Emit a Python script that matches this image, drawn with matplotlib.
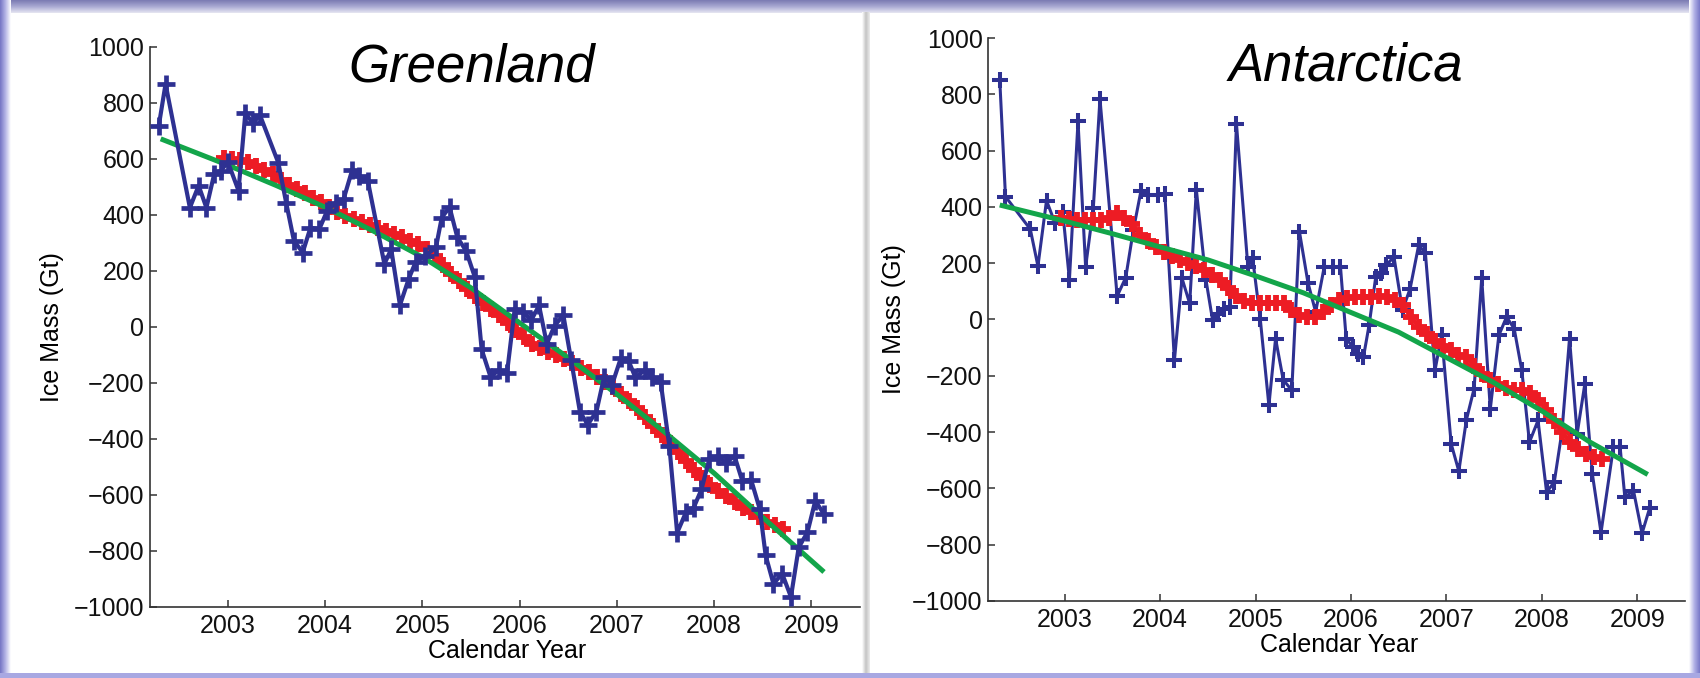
import numpy as np
import matplotlib
matplotlib.use("Agg")
import matplotlib.pyplot as plt
from matplotlib.colors import LinearSegmentedColormap

plt.rcParams['font.family'] = ['Liberation Sans', 'DejaVu Sans']

# ---------------- data ----------------
gl_years = [2002.29, 2002.36, 2002.61, 2002.70, 2002.78, 2002.86, 2002.93, 2003.00,
            2003.11, 2003.18, 2003.26, 2003.33, 2003.52, 2003.60, 2003.68, 2003.77,
            2003.85, 2003.94, 2004.02, 2004.11, 2004.19, 2004.28, 2004.35, 2004.44,
            2004.61, 2004.68, 2004.77, 2004.86, 2004.93, 2005.03, 2005.14, 2005.20,
            2005.28, 2005.36, 2005.45, 2005.54, 2005.61, 2005.70, 2005.79, 2005.87,
            2005.95, 2006.04, 2006.12, 2006.20, 2006.28, 2006.36, 2006.45, 2006.53,
            2006.62, 2006.70, 2006.79, 2006.87, 2006.95, 2007.04, 2007.12, 2007.19,
            2007.29, 2007.36, 2007.45, 2007.54, 2007.62, 2007.71, 2007.79, 2007.87,
            2007.95, 2008.04, 2008.12, 2008.21, 2008.29, 2008.38, 2008.47, 2008.53,
            2008.61, 2008.70, 2008.79, 2008.87, 2008.96, 2009.04, 2009.13]
gl_mass = [718, 868, 426, 505, 426, 546, 558, 590,
           487, 763, 728, 757, 586, 444, 308, 266,
           355, 349, 414, 444, 456, 562, 538, 521,
           225, 278, 78, 172, 231, 255, 284, 391,
           428, 320, 272, 178, -80, -177, -154, -166,
           65, 53, 24, 77, -60, 5, 42, -118,
           -302, -349, -302, -177, -207, -112, -120, -180,
           -154, -177, -195, -426, -735, -662, -645, -580,
           -473, -461, -485, -461, -550, -545, -651, -816,
           -917, -881, -964, -787, -733, -621, -668]

gl_smooth_start = 2002.96
gl_smooth = [605, 600, 598, 590, 575, 560, 545, 525, 508, 492, 477, 462, 445,
             428, 412, 398, 385, 375, 363, 352, 342, 331, 320, 308, 295,
             278, 255, 222, 190, 165, 135, 110, 85, 65, 42, 15, -10,
             -35, -60, -75, -88, -100, -115, -130, -145, -160, -178, -195, -215,
             -240, -265, -290, -320, -355, -385, -415, -445, -480, -510, -540, -565,
             -585, -605, -625, -645, -660, -680, -695, -708, -722]

gl_fit_years = [2002.31, 2003.0, 2003.5, 2004.0, 2004.5, 2005.0, 2005.5, 2006.0,
                2006.5, 2007.0, 2007.5, 2008.0, 2008.5, 2009.13]
gl_fit = [672, 578, 505, 428, 342, 250, 140, 15, -110, -240, -378, -522, -680, -875]

an_years = [2002.32, 2002.38, 2002.64, 2002.72, 2002.81, 2002.90, 2002.98, 2003.05,
            2003.14, 2003.22, 2003.30, 2003.37, 2003.55, 2003.64, 2003.72, 2003.80,
            2003.87, 2003.98, 2004.05, 2004.15, 2004.23, 2004.31, 2004.38, 2004.48,
            2004.55, 2004.61, 2004.67, 2004.73, 2004.80, 2004.92, 2004.97, 2005.05,
            2005.14, 2005.21, 2005.29, 2005.38, 2005.46, 2005.55, 2005.63, 2005.72,
            2005.81, 2005.89, 2005.95, 2006.02, 2006.07, 2006.13, 2006.19, 2006.26,
            2006.31, 2006.37, 2006.45, 2006.54, 2006.62, 2006.71, 2006.78, 2006.88,
            2006.95, 2007.05, 2007.13, 2007.21, 2007.29, 2007.37, 2007.46, 2007.55,
            2007.63, 2007.71, 2007.79, 2007.87, 2007.96, 2008.05, 2008.13, 2008.21,
            2008.29, 2008.37, 2008.45, 2008.53, 2008.62, 2008.75, 2008.82, 2008.87,
            2008.96, 2009.05, 2009.13]
an_mass = [852, 437, 321, 190, 423, 342, 383, 142,
           704, 187, 395, 784, 83, 149, 318, 458,
           443, 443, 445, -145, 146, 57, 461, 142,
           -2, 21, 36, 45, 696, 187, 217, 0,
           -305, -68, -214, -252, 312, 130, 27, 187,
           187, 187, -68, -98, -121, -135, -20, 152,
           164, 193, 223, 33, 110, 265, 235, -181,
           -56, -442, -539, -356, -246, 146, -317, -56,
           9, -32, -181, -436, -359, -614, -578, -400,
           -68, -406, -230, -551, -757, -454, -454, -632,
           -608, -760, -670]

an_smooth_start = 2002.96
an_smooth = [360, 358, 355, 354, 354, 352, 362, 378, 360, 340, 300, 278, 258,
             240, 224, 210, 200, 190, 175, 158, 140, 112, 85, 65, 60,
             60, 59, 60, 58, 35, 15, 8, 10, 28, 50, 68, 76,
             80, 81, 81, 82, 80, 70, 50, 10, -25, -50, -75, -95,
             -110, -125, -135, -165, -195, -216, -230, -242, -250, -252, -262, -285,
             -320, -360, -400, -435, -462, -478, -488, -497]

an_fit_years = [2002.32, 2003.0, 2003.5, 2004.0, 2004.5, 2005.0, 2005.5, 2006.0,
                2006.5, 2007.0, 2007.5, 2008.0, 2008.5, 2009.11]
an_fit = [407, 350, 305, 258, 212, 155, 95, 25, -45, -135, -225, -325, -435, -551]

year_ticks = [2003, 2004, 2005, 2006, 2007, 2008, 2009]
mass_ticks = [1000, 800, 600, 400, 200, 0, -200, -400, -600, -800, -1000]
tick_labels_y = ['1000', '800', '600', '400', '200', '0', '\u2212200', '\u2212400',
                 '\u2212600', '\u2212800', '\u22121000']

BLUE = '#2e3192'
RED = '#ed1c24'
GREEN = '#13a54a'

W, H = 1700, 678
fig = plt.figure(figsize=(W / 100, H / 100), dpi=100)
fig.patch.set_facecolor('white')

# ---------------- frame decoration ----------------
bg = fig.add_axes([0, 0, 1, 1], zorder=-10)
bg.set_xlim(0, W)
bg.set_ylim(H, 0)
bg.axis('off')
grad = np.linspace(0, 1, 64)
cm_top = LinearSegmentedColormap.from_list('t', ['#7a7ab2', '#a9a9d2', '#e6e6f2'])
bg.imshow(grad[:, None], extent=[0, W, 13, 0], aspect='auto', cmap=cm_top, origin='upper')
cm_left = LinearSegmentedColormap.from_list('l', ['#7474c4', '#b4b4e6', '#ffffff'])
bg.imshow(grad[None, :], extent=[0, 11, H, 0], aspect='auto', cmap=cm_left, origin='upper')
cm_right = LinearSegmentedColormap.from_list('r', ['#ffffff', '#b0b0e6', '#7878c8'])
bg.imshow(grad[None, :], extent=[1689, W, H, 0], aspect='auto', cmap=cm_right, origin='upper')
bg.add_patch(plt.Rectangle((0, 673), W, 5, color='#a8a8e2', lw=0))
cm_sep = LinearSegmentedColormap.from_list('s', ['#ffffff', '#c4c4c4', '#ececec'])
bg.imshow(grad[None, :], extent=[862, 870, H - 5, 12], aspect='auto', cmap=cm_sep, origin='upper')
bg.set_xlim(0, W)
bg.set_ylim(H, 0)


def setup_axes(ax):
    ax.set_xlim(2002.2, 2009.5)
    ax.set_ylim(-1000, 1000)
    ax.set_xticks(year_ticks)
    ax.set_xticklabels([str(y) for y in year_ticks])
    ax.set_yticks(mass_ticks)
    ax.set_yticklabels(tick_labels_y)
    ax.spines['top'].set_visible(False)
    ax.spines['right'].set_visible(False)
    for s in ('left', 'bottom'):
        ax.spines[s].set_color('#333333')
        ax.spines[s].set_linewidth(1.2)
    ax.tick_params(axis='both', direction='in', length=5, width=1.1, color='#333333',
                   labelsize=18, labelcolor='#111111')
    ax.tick_params(axis='x', pad=5)
    ax.tick_params(axis='y', pad=4)
    ax.set_facecolor('none')


# ---------------- Greenland ----------------
ax1 = fig.add_axes([150 / W, 1 - 607 / H, 710 / W, 560 / H])
setup_axes(ax1)
gl_sy = gl_smooth_start + np.arange(len(gl_smooth)) / 12.0
ax1.plot(gl_sy, gl_smooth, color=RED, lw=3, marker='+', ms=11.5, mew=4.2, zorder=2)
ax1.plot(gl_fit_years, gl_fit, color=GREEN, lw=3.6, zorder=3, solid_capstyle='butt')
ax1.plot(gl_years, gl_mass, color=BLUE, lw=3.0, marker='+', ms=12.5, mew=3.4, zorder=4)
ax1.text(0.4535, 0.9375, 'Greenland', transform=ax1.transAxes, ha='center',
         va='baseline', fontsize=38, style='italic', color='black')
ax1.set_ylabel('Ice Mass (Gt)', fontsize=18)
ax1.yaxis.set_label_coords(-0.121, 0.5)
ax1.set_xlabel('Calendar Year', fontsize=18)
ax1.xaxis.set_label_coords(0.5035, -0.0577)

# ---------------- Antarctica ----------------
ax2 = fig.add_axes([988.3 / W, 1 - 600.8 / H, 696.7 / W, 562.6 / H])
setup_axes(ax2)
an_sy = an_smooth_start + np.arange(len(an_smooth)) / 12.0
ax2.plot(an_years, an_mass, color=BLUE, lw=2.2, marker='+', ms=11, mew=2.9, zorder=2)
ax2.plot(an_sy, an_smooth, color=RED, lw=3, marker='+', ms=11.5, mew=4.2, zorder=3)
ax2.plot(an_fit_years, an_fit, color=GREEN, lw=3.6, zorder=4, solid_capstyle='butt')
ax2.text(0.514, 0.924, 'Antarctica', transform=ax2.transAxes, ha='center',
         va='baseline', fontsize=38, style='italic', color='black')
ax2.set_ylabel('Ice Mass (Gt)', fontsize=18)
ax2.yaxis.set_label_coords(-0.118, 0.5)
ax2.set_xlabel('Calendar Year', fontsize=18)
ax2.xaxis.set_label_coords(0.504, -0.0572)

fig.savefig('out.png', dpi=100)
